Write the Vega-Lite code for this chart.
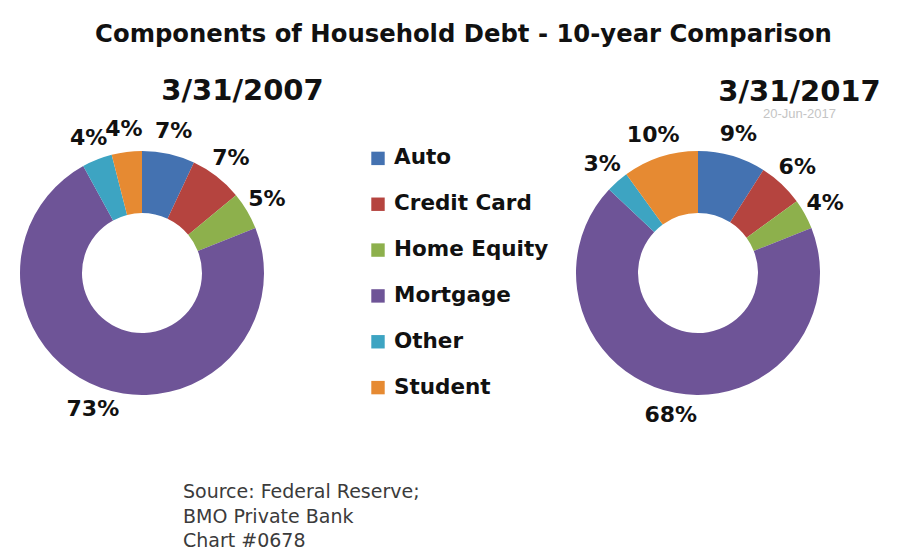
{
  "$schema": "https://vega.github.io/schema/vega-lite/v6.json",
  "background": "white",
  "padding": {"left": 12, "top": 22, "right": 10, "bottom": 0},
  "bounds": "flush",
  "spacing": 0,
  "title": {
    "text": "Components of Household Debt - 10-year Comparison",
    "font": "DejaVu Sans", "fontSize": 24.3, "fontWeight": "bold", "color": "#111111",
    "anchor": "middle", "frame": "group", "dx": 451.5, "offset": 30
  },
  "datasets": {
    "debt": [
      {"year": "2007", "category": "Auto", "share": 0.07},
      {"year": "2007", "category": "Credit Card", "share": 0.07},
      {"year": "2007", "category": "Home Equity", "share": 0.05},
      {"year": "2007", "category": "Mortgage", "share": 0.73},
      {"year": "2007", "category": "Other", "share": 0.04},
      {"year": "2007", "category": "Student", "share": 0.04},
      {"year": "2017", "category": "Auto", "share": 0.09},
      {"year": "2017", "category": "Credit Card", "share": 0.06},
      {"year": "2017", "category": "Home Equity", "share": 0.04},
      {"year": "2017", "category": "Mortgage", "share": 0.68},
      {"year": "2017", "category": "Other", "share": 0.03},
      {"year": "2017", "category": "Student", "share": 0.10}
    ],
    "categories": [
      {"category": "Auto"},
      {"category": "Credit Card"},
      {"category": "Home Equity"},
      {"category": "Mortgage"},
      {"category": "Other"},
      {"category": "Student"}
    ]
  },
  "hconcat": [
    {
      "width": 260, "height": 320,
      "data": {"name": "debt"},
      "transform": [{"filter": "datum.year === '2007'"}],
      "title": {
        "text": "3/31/2007", "font": "DejaVu Sans", "fontSize": 29, "fontWeight": "bold", "color": "#111111",
        "anchor": "middle", "frame": "group", "dx": 100.5, "offset": 7
      },
      "encoding": {
        "theta": {"field": "share", "type": "quantitative", "stack": true},
        "order": {"field": "category", "type": "ordinal", "sort": "ascending"}
      },
      "layer": [
        {
          "mark": {"type": "arc", "innerRadius": 60, "outerRadius": 122},
          "encoding": {"color": {"field": "category", "type": "nominal", "legend": null}}
        },
        {
          "mark": {"type": "text", "radius": 145, "font": "DejaVu Sans", "fontSize": 22, "fontWeight": "bold", "color": "#111111"},
          "encoding": {
            "text": {"field": "share", "type": "quantitative", "format": ".0%"},
            "detail": {"field": "category", "type": "nominal"}
          }
        }
      ]
    },
    {
      "width": 296, "height": 320,
      "data": {"name": "categories"},
      "title": {
        "text": ["Source: Federal Reserve;", "BMO Private Bank", "Chart #0678"],
        "orient": "bottom", "anchor": "start", "frame": "group", "dx": -89, "offset": 50,
        "font": "DejaVu Sans", "fontSize": 19, "fontWeight": "normal", "color": "#3b3b3b", "lineHeight": 24.5
      },
      "encoding": {
        "y": {"field": "category", "type": "nominal", "axis": null, "scale": {"type": "point", "padding": 0.99}}
      },
      "layer": [
        {
          "mark": {"type": "point", "shape": "square", "filled": true, "size": 180, "opacity": 1, "xOffset": -42},
          "encoding": {"color": {"field": "category", "type": "nominal", "legend": null}}
        },
        {
          "mark": {"type": "text", "align": "left", "baseline": "middle", "dx": -26, "font": "DejaVu Sans", "fontSize": 21.5, "fontWeight": "bold", "color": "#111111"},
          "encoding": {"text": {"field": "category", "type": "nominal"}}
        }
      ]
    },
    {
      "width": 260, "height": 320,
      "data": {"name": "debt"},
      "transform": [{"filter": "datum.year === '2017'"}],
      "title": {
        "text": "3/31/2017", "font": "DejaVu Sans", "fontSize": 29, "fontWeight": "bold", "color": "#111111",
        "subtitle": "20-Jun-2017", "subtitleFont": "Liberation Sans", "subtitleFontSize": 13, "subtitleColor": "#c4c4c4", "subtitlePadding": 1,
        "anchor": "middle", "frame": "group", "dx": 101.5, "offset": -8
      },
      "encoding": {
        "theta": {"field": "share", "type": "quantitative", "stack": true},
        "order": {"field": "category", "type": "ordinal", "sort": "ascending"}
      },
      "layer": [
        {
          "mark": {"type": "arc", "innerRadius": 60, "outerRadius": 122},
          "encoding": {"color": {"field": "category", "type": "nominal", "legend": null}}
        },
        {
          "mark": {"type": "text", "radius": 145, "font": "DejaVu Sans", "fontSize": 22, "fontWeight": "bold", "color": "#111111"},
          "encoding": {
            "text": {"field": "share", "type": "quantitative", "format": ".0%"},
            "detail": {"field": "category", "type": "nominal"}
          }
        }
      ]
    }
  ],
  "config": {
    "view": {"stroke": null},
    "range": {"category": ["#4472B1", "#B5443F", "#8DB04C", "#6E5497", "#3DA4C2", "#E68A32"]}
  }
}
